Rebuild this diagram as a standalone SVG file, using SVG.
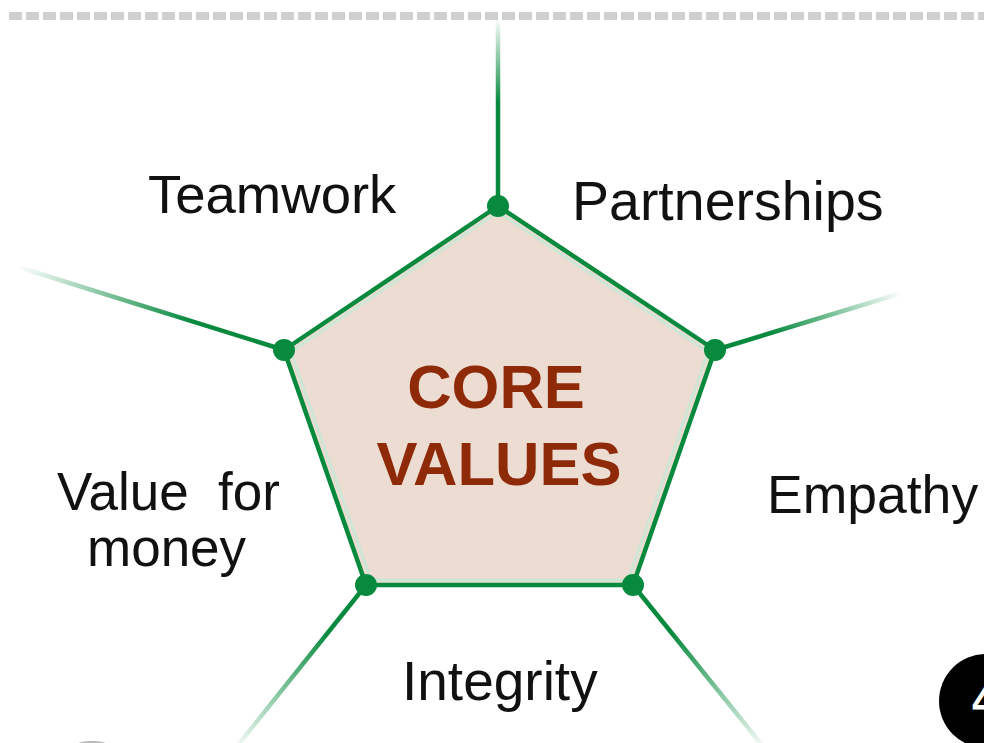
<svg xmlns="http://www.w3.org/2000/svg" width="984" height="743" viewBox="0 0 984 743">
  <style>
    .lbl { font-family: "Liberation Sans", Arial, sans-serif; font-size: 53px; fill: #111; }
    .core { font-family: "Liberation Sans", Arial, sans-serif; font-size: 61.5px; font-weight: bold; fill: #8e2a08; text-anchor: middle; }
    .ray { stroke-width: 4.5; fill: none; stroke-linecap: butt; }
    .dot { fill: #078a3e; }
  </style>
  <defs>
    <linearGradient id="gTop" gradientUnits="userSpaceOnUse" x1="498" y1="206" x2="498" y2="18">
      <stop offset="0" stop-color="#078a3e"/><stop offset="0.55" stop-color="#078a3e"/><stop offset="1" stop-color="#078a3e" stop-opacity="0"/>
    </linearGradient>
    <linearGradient id="gLeft" gradientUnits="userSpaceOnUse" x1="284" y1="350" x2="18" y2="267">
      <stop offset="0" stop-color="#078a3e"/><stop offset="0.35" stop-color="#078a3e"/><stop offset="1" stop-color="#078a3e" stop-opacity="0"/>
    </linearGradient>
    <linearGradient id="gRight" gradientUnits="userSpaceOnUse" x1="715" y1="350" x2="902" y2="293">
      <stop offset="0" stop-color="#078a3e"/><stop offset="0.3" stop-color="#078a3e"/><stop offset="1" stop-color="#078a3e" stop-opacity="0"/>
    </linearGradient>
    <linearGradient id="gBL" gradientUnits="userSpaceOnUse" x1="366" y1="585" x2="238" y2="745">
      <stop offset="0" stop-color="#078a3e"/><stop offset="0.3" stop-color="#078a3e"/><stop offset="1" stop-color="#078a3e" stop-opacity="0.05"/>
    </linearGradient>
    <linearGradient id="gBR" gradientUnits="userSpaceOnUse" x1="633" y1="585" x2="762" y2="745">
      <stop offset="0" stop-color="#078a3e"/><stop offset="0.3" stop-color="#078a3e"/><stop offset="1" stop-color="#078a3e" stop-opacity="0.05"/>
    </linearGradient>
  </defs>

  <rect x="0" y="0" width="984" height="743" fill="#ffffff"/>

  <line x1="9" y1="16" x2="984" y2="16" stroke="#cfcfcf" stroke-width="8" stroke-dasharray="13 4"/>

  <g id="connectors">
    <line class="ray" x1="498" y1="206" x2="498" y2="18" stroke="url(#gTop)"/>
    <line class="ray" x1="284" y1="350" x2="18" y2="267" stroke="url(#gLeft)"/>
    <line class="ray" x1="715" y1="350" x2="902" y2="293" stroke="url(#gRight)"/>
    <line class="ray" x1="366" y1="585" x2="238" y2="745" stroke="url(#gBL)"/>
    <line class="ray" x1="633" y1="585" x2="762" y2="745" stroke="url(#gBR)"/>
  </g>

  <g id="core">
    <polygon points="498,206 715,350 633,585 366,585 284,350" fill="#ecdcd1" stroke="#078a3e" stroke-width="4.5" stroke-linejoin="round"/>
    <polygon points="498,212 708,352 628,580 371,580 291,352" fill="none" stroke="#cfe6d6" stroke-width="3" stroke-linejoin="round"/>
    <text class="core" x="496" y="408">CORE</text>
    <text class="core" x="499" y="485">VALUES</text>
  </g>

  <g id="dots">
    <circle class="dot" cx="498" cy="206" r="11"/>
    <circle class="dot" cx="715" cy="350" r="11"/>
    <circle class="dot" cx="633" cy="585" r="11"/>
    <circle class="dot" cx="366" cy="585" r="11"/>
    <circle class="dot" cx="284" cy="350" r="11"/>
  </g>

  <g id="teamwork"><text class="lbl" x="148" y="213" style="font-size:54.5px">Teamwork</text></g>
  <g id="partnerships"><text class="lbl" x="572" y="220" style="font-size:55.5px">Partnerships</text></g>
  <g id="empathy"><text class="lbl" x="767" y="513" style="font-size:53.5px">Empathy</text></g>
  <g id="value-for-money">
    <text class="lbl" x="57" y="510" xml:space="preserve">Value  for</text>
    <text class="lbl" x="87" y="566">money</text>
  </g>
  <g id="integrity"><text class="lbl" x="402" y="700" style="font-size:55px">Integrity</text></g>

  <g id="badge">
    <circle cx="986" cy="701" r="47" fill="#000"/>
    <text x="972" y="716" font-family="Liberation Sans, Arial, sans-serif" font-size="44" font-weight="bold" fill="#fff">4</text>
  </g>

  <ellipse cx="92" cy="745" rx="16" ry="4" fill="#b8b8b8"/>
</svg>
